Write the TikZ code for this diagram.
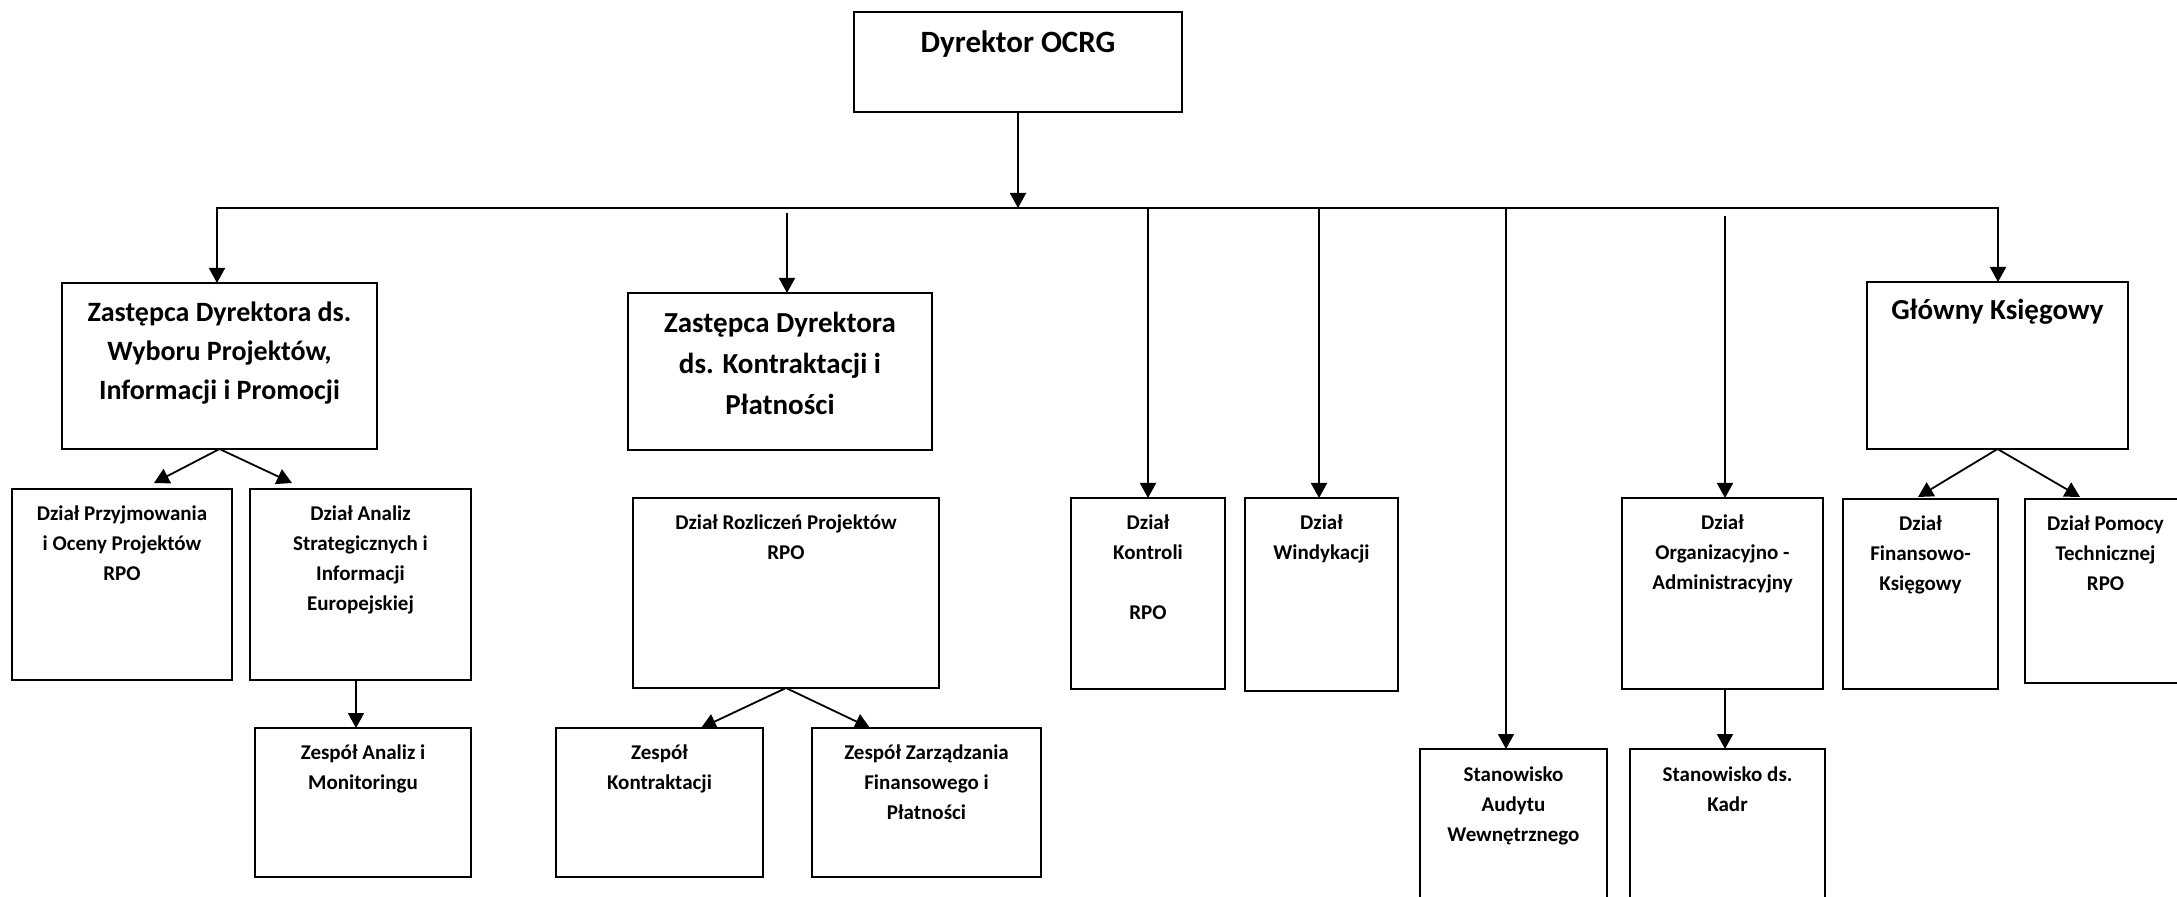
\documentclass[tikz,border=0pt]{standalone}
\usepackage{fontspec}
\setmainfont{Carlito}
\usetikzlibrary{arrows.meta}
\tikzset{
  obox/.style={draw,line width=1pt,inner sep=0pt,outer sep=0pt},
  smalltxt/.style={font={\fontsize{10.5pt}{15pt}\selectfont\bfseries}},
  dirtxt/.style={font={\fontsize{15.5pt}{21.7pt}\selectfont\bfseries}},
  bigAtxt/.style={font={\fontsize{14pt}{19.5pt}\selectfont\bfseries}},
  bigBtxt/.style={font={\fontsize{14.5pt}{20.5pt}\selectfont\bfseries}},
  conn/.style={line width=0.9pt},
  arr/.style={conn,-{Triangle[length=7.5pt,width=8pt]}}
}
% #1 name, #2 x1, #3 y1, #4 x2, #5 y2, #6 style, #7 top pad, #8 text
\newcommand\obx[8]{%
  \node[obox,#6,anchor=north west,
        minimum width={(#4-#2)*0.5pt},minimum height={(#5-#3)*0.5pt}] (#1) at (#2,#3)
  {\parbox[c][\dimexpr.5pt*(#5-#3)\relax][t]{\dimexpr.5pt*(#4-#2)\relax}{\centering\vspace*{#7}\strut#8\par}};}
\begin{document}
\begin{tikzpicture}[x=0.5pt,y=-0.5pt]
\useasboundingbox (0,0) rectangle (2177,897);
% top
\obx{dyr}{854}{12}{1182}{112}{dirtxt}{5.3pt}{Dyrektor OCRG}
% second level
\obx{z1}{62}{283}{377}{449}{bigAtxt}{5.85pt}{Zastępca Dyrektora ds.\\Wyboru Projektów,\\Informacji i Promocji}
\obx{z2}{628}{293}{932}{450}{bigBtxt}{5.65pt}{Zastępca Dyrektora\\ds. Kontraktacji i\\Płatności}
\obx{gl}{1867}{282}{2128}{449}{bigBtxt}{4.65pt}{Główny Księgowy}
% departments
\obx{prz}{12}{489}{232}{680}{smalltxt}{5pt}{Dział Przyjmowania\\i Oceny Projektów\\RPO}
\obx{ana}{250}{489}{471}{680}{smalltxt}{5pt}{Dział Analiz\\Strategicznych i\\Informacji\\Europejskiej}
\obx{zan}{255}{728}{471}{877}{smalltxt}{5.25pt}{Zespół Analiz i\\Monitoringu}
\obx{roz}{633}{498}{939}{688}{smalltxt}{5.25pt}{Dział Rozliczeń Projektów\\RPO}
\obx{zko}{556}{728}{763}{877}{smalltxt}{5.25pt}{Zespół\\Kontraktacji}
\obx{zza}{812}{728}{1041}{877}{smalltxt}{5.25pt}{Zespół Zarządzania\\Finansowego i\\Płatności}
\obx{kon}{1071}{498}{1225}{689}{smalltxt}{5.25pt}{Dział\\Kontroli\\\strut\\RPO}
\obx{win}{1245}{498}{1398}{691}{smalltxt}{5.25pt}{Dział\\Windykacji}
\obx{org}{1622}{498}{1823}{689}{smalltxt}{5.25pt}{Dział\\Organizacyjno -\\Administracyjny}
\obx{fin}{1843}{499}{1998}{689}{smalltxt}{5.25pt}{Dział\\Finansowo-\\Księgowy}
\obx{pom}{2025}{499}{2186}{683}{smalltxt}{5.25pt}{Dział Pomocy\\Technicznej\\RPO}
\obx{aud}{1420}{749}{1607}{930}{smalltxt}{5.75pt}{Stanowisko\\Audytu\\Wewnętrznego}
\obx{kad}{1630}{749}{1825}{930}{smalltxt}{5.75pt}{Stanowisko ds.\\Kadr}
% junction points
\coordinate (hl) at (217,208);
\coordinate (hr) at (1998,208);
\coordinate (j2) at (787,213);
\coordinate (jk) at (1148,208);
\coordinate (jw) at (1319,208);
\coordinate (ja) at (1506,208);
\coordinate (jo) at (1725,216);
\coordinate (jz) at (356,680);
\coordinate (t1) at (154,483);
\coordinate (t2) at (292,483);
\coordinate (t3) at (701,728);
\coordinate (t4) at (870,728);
\coordinate (t5) at (1918,497);
\coordinate (t6) at (2080,497);
% connectors
\draw[arr] (dyr.south) -- (dyr.south |- hl);
\draw[arr] (hr) -- (hl) -- (hl |- z1.north);
\draw[arr] (hl) -- (hr) -- (hr |- gl.north);
\draw[arr] (j2) -- (j2 |- z2.north);
\draw[arr] (jk) -- (jk |- kon.north);
\draw[arr] (jw) -- (jw |- win.north);
\draw[arr] (ja) -- (ja |- aud.north);
\draw[arr] (jo) -- (jo |- org.north);
\draw[arr] (jo |- org.south) -- (jo |- kad.north);
\draw[arr] (z1.south) -- (t1);
\draw[arr] (z1.south) -- (t2);
\draw[arr] (jz |- ana.south) -- (jz |- zan.north);
\draw[arr] (roz.south) -- (t3);
\draw[arr] (roz.south) -- (t4);
\draw[arr] (gl.south) -- (t5);
\draw[arr] (gl.south) -- (t6);
\end{tikzpicture}
\end{document}
